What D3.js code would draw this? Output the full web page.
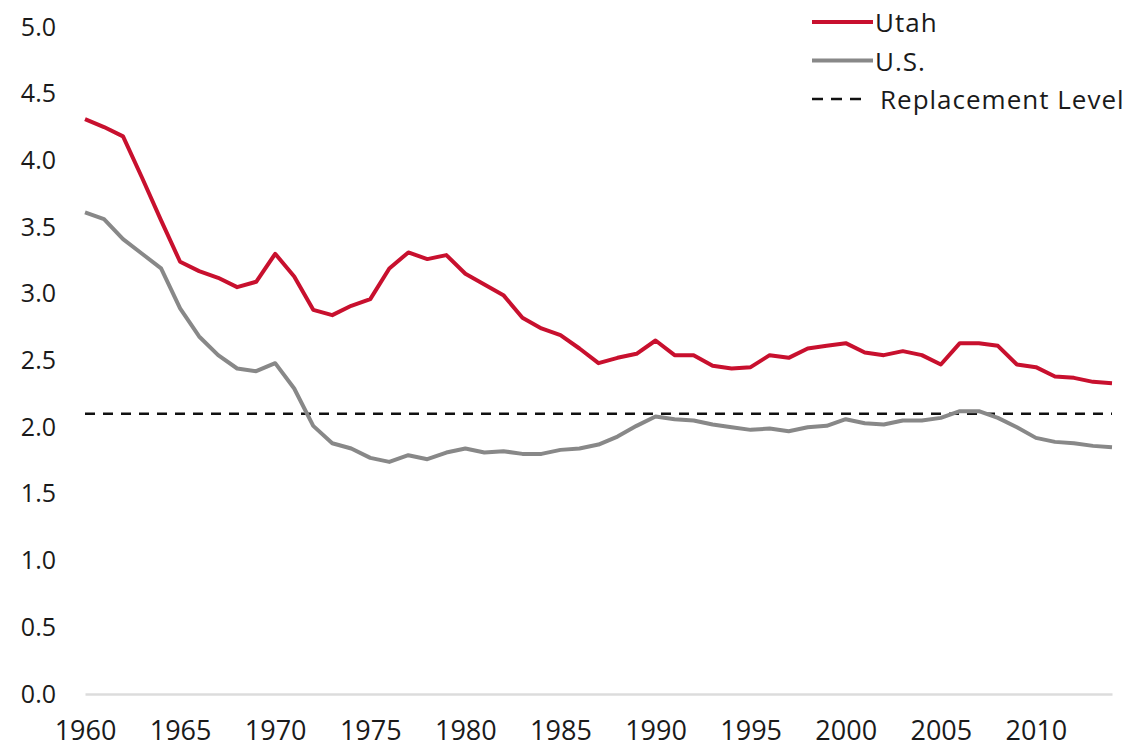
<!DOCTYPE html>
<html>
<head>
<meta charset="utf-8">
<script src="https://cdn.jsdelivr.net/npm/d3@7"></script>
<style>
  body { margin: 0; background: #fff; }
  svg { display: block; font-family: "Open Sans", sans-serif; }
</style>
</head>
<body>
<svg width="1132" height="750"></svg>
<script>
// years on the x axis
const YEARS = [
  1960, 1961, 1962, 1963, 1964, 1965, 1966, 1967, 1968, 1969,
  1970, 1971, 1972, 1973, 1974, 1975, 1976, 1977, 1978, 1979,
  1980, 1981, 1982, 1983, 1984, 1985, 1986, 1987, 1988, 1989,
  1990, 1991, 1992, 1993, 1994, 1995, 1996, 1997, 1998, 1999,
  2000, 2001, 2002, 2003, 2004, 2005, 2006, 2007, 2008, 2009,
  2010, 2011, 2012, 2013, 2014
];

// total fertility rate, Utah
const UTAH = [
  4.31, 4.25, 4.18, 3.87, 3.55, 3.24, 3.17, 3.12, 3.05, 3.09,
  3.30, 3.13, 2.88, 2.84, 2.91, 2.96, 3.19, 3.31, 3.26, 3.29,
  3.15, 3.07, 2.99, 2.82, 2.74, 2.69, 2.59, 2.48, 2.52, 2.55,
  2.65, 2.54, 2.54, 2.46, 2.44, 2.45, 2.54, 2.52, 2.59, 2.61,
  2.63, 2.56, 2.54, 2.57, 2.54, 2.47, 2.63, 2.63, 2.61, 2.47,
  2.45, 2.38, 2.37, 2.34, 2.33
];

// total fertility rate, U.S.
const US = [
  3.61, 3.56, 3.41, 3.30, 3.19, 2.89, 2.68, 2.54, 2.44, 2.42,
  2.48, 2.29, 2.01, 1.88, 1.84, 1.77, 1.74, 1.79, 1.76, 1.81,
  1.84, 1.81, 1.82, 1.80, 1.80, 1.83, 1.84, 1.87, 1.93, 2.01,
  2.08, 2.06, 2.05, 2.02, 2.00, 1.98, 1.99, 1.97, 2.00, 2.01,
  2.06, 2.03, 2.02, 2.05, 2.05, 2.07, 2.12, 2.12, 2.07, 2.00,
  1.92, 1.89, 1.88, 1.86, 1.85
];

const REPLACEMENT = 2.1;

const X_TICKS = [1960, 1965, 1970, 1975, 1980, 1985, 1990, 1995, 2000, 2005, 2010];
const Y_TICKS = [0, 0.5, 1, 1.5, 2, 2.5, 3, 3.5, 4, 4.5, 5];

const LEGEND = [
  { label: 'Utah', color: '#c8102e', dash: null },
  { label: 'U.S.', color: '#888888', dash: null },
  { label: 'Replacement Level', color: '#111111', dash: '11,8' }
];

const svg = d3.select('svg');

// scales
const xScale = d3.scaleLinear().domain([1960, 2014]).range([85, 1112]);
const yScale = d3.scaleLinear().domain([0, 5]).range([694, 27]);

// y axis: labels only
const yAxis = svg.append('g')
  .attr('transform', 'translate(56,0)')
  .call(d3.axisLeft(yScale).tickValues(Y_TICKS).tickSize(0).tickPadding(0).tickFormat(d3.format('.1f')));
yAxis.select('.domain').remove();
yAxis.selectAll('text')
  .attr('font-size', 25)
  .attr('font-family', '"Open Sans", sans-serif')
  .attr('fill', '#1a1a1a');

// x axis: domain line is the light baseline
const xAxis = svg.append('g')
  .attr('transform', 'translate(0,' + yScale(0) + ')')
  .call(d3.axisBottom(xScale).tickValues(X_TICKS).tickSize(0).tickPadding(27).tickFormat(d3.format('d')));
xAxis.select('.domain')
  .attr('stroke', '#dcdcdc')
  .attr('stroke-width', 2.5);
xAxis.selectAll('text')
  .attr('font-size', 27)
  .attr('font-family', '"Open Sans", sans-serif')
  .attr('fill', '#1a1a1a');

// replacement level
svg.append('line')
  .attr('x1', xScale(1960))
  .attr('x2', xScale(2014))
  .attr('y1', yScale(REPLACEMENT))
  .attr('y2', yScale(REPLACEMENT))
  .attr('stroke', '#111')
  .attr('stroke-width', 2.5)
  .attr('stroke-dasharray', '10,8');

const line = d3.line()
  .x((d, i) => xScale(YEARS[i]))
  .y(d => yScale(d));

svg.append('path')
  .datum(US)
  .attr('fill', 'none')
  .attr('stroke', '#888888')
  .attr('stroke-width', 4)
  .attr('stroke-linejoin', 'round')
  .attr('d', line);

svg.append('path')
  .datum(UTAH)
  .attr('fill', 'none')
  .attr('stroke', '#c8102e')
  .attr('stroke-width', 4)
  .attr('stroke-linejoin', 'round')
  .attr('d', line);

// legend
const legend = svg.append('g').attr('transform', 'translate(812,22)');
const items = legend.selectAll('g')
  .data(LEGEND)
  .enter()
  .append('g')
  .attr('transform', (d, i) => 'translate(0,' + (i * 38.5) + ')');

items.append('line')
  .attr('x1', 0)
  .attr('x2', d => d.dash ? 49 : 61)
  .attr('y1', 0)
  .attr('y2', 0)
  .attr('stroke', d => d.color)
  .attr('stroke-width', d => d.dash ? 2.5 : 4)
  .attr('stroke-dasharray', d => d.dash);

items.append('text')
  .attr('x', d => d.dash ? 68 : 63)
  .attr('y', 10)
  .attr('font-size', 26)
  .attr('letter-spacing', 1)
  .attr('fill', '#1a1a1a')
  .text(d => d.label);
</script>
</body>
</html>
